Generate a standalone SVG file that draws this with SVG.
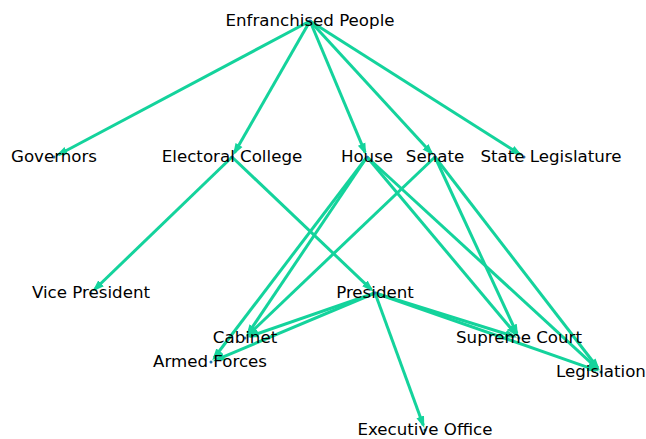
<svg xmlns="http://www.w3.org/2000/svg" width="646" height="439" viewBox="0 0 646 439">
<style>
.e{stroke:#14d39c;stroke-width:3;fill:none;marker-end:url(#ah)}
.n{fill:#1f78b4}
.t{font-family:"DejaVu Sans",sans-serif;font-size:16.67px;fill:#000;text-anchor:middle;dominant-baseline:central}
</style>
<defs>
<marker id="ah" markerUnits="userSpaceOnUse" markerWidth="13" markerHeight="10" refX="9" refY="4.5" orient="auto">
<path d="M0,0.5 L12,4.5 L0,8.5 z" fill="#14d39c"/>
</marker>
</defs>
<rect width="646" height="439" fill="#fff"/>
<g id="edges">
<line class="e" x1="310" y1="21" x2="58.4" y2="154.7"/>
<line class="e" x1="310" y1="21" x2="234.5" y2="152.7"/>
<line class="e" x1="310" y1="21" x2="365.1" y2="152.4"/>
<line class="e" x1="310" y1="21" x2="431.6" y2="153.3"/>
<line class="e" x1="310" y1="21" x2="519.8" y2="154.3"/>
<line class="e" x1="232" y1="157" x2="94.6" y2="289.5"/>
<line class="e" x1="232" y1="157" x2="371.4" y2="289.6"/>
<line class="e" x1="367" y1="157" x2="247.8" y2="333.9"/>
<line class="e" x1="367" y1="157" x2="214.0" y2="358.0"/>
<line class="e" x1="367" y1="157" x2="515.8" y2="334.2"/>
<line class="e" x1="367" y1="157" x2="597.3" y2="368.6"/>
<line class="e" x1="435" y1="157" x2="248.6" y2="334.6"/>
<line class="e" x1="435" y1="157" x2="516.9" y2="333.5"/>
<line class="e" x1="435" y1="157" x2="597.9" y2="368.0"/>
<line class="e" x1="375" y1="293" x2="249.7" y2="336.4"/>
<line class="e" x1="375" y1="293" x2="215.6" y2="360.1"/>
<line class="e" x1="375" y1="293" x2="514.2" y2="336.5"/>
<line class="e" x1="375" y1="293" x2="596.3" y2="370.3"/>
<line class="e" x1="375" y1="293" x2="423.3" y2="425.3"/>
</g>
<g id="n-enfranchised"><circle class="n" cx="310" cy="21" r="1.5"/><text class="t" x="310" y="20">Enfranchised People</text></g>
<g id="n-governors"><circle class="n" cx="54" cy="157" r="1.5"/><text class="t" x="54" y="156">Governors</text></g>
<g id="n-electoral"><circle class="n" cx="232" cy="157" r="1.5"/><text class="t" x="232" y="156">Electoral College</text></g>
<g id="n-house"><circle class="n" cx="367" cy="157" r="1.5"/><text class="t" x="367" y="156">House</text></g>
<g id="n-senate"><circle class="n" cx="435" cy="157" r="1.5"/><text class="t" x="435" y="156">Senate</text></g>
<g id="n-stateleg"><circle class="n" cx="524" cy="157" r="1.5"/><text class="t" x="551" y="156">State Legislature</text></g>
<g id="n-vp"><circle class="n" cx="91" cy="293" r="1.5"/><text class="t" x="91" y="292">Vice President</text></g>
<g id="n-president"><circle class="n" cx="375" cy="293" r="1.5"/><text class="t" x="375" y="292">President</text></g>
<g id="n-cabinet"><circle class="n" cx="245" cy="338" r="1.5"/><text class="t" x="245" y="337">Cabinet</text></g>
<g id="n-armed"><circle class="n" cx="211" cy="362" r="1.5"/><text class="t" x="210" y="361">Armed Forces</text></g>
<g id="n-supreme"><circle class="n" cx="519" cy="338" r="1.5"/><text class="t" x="519" y="337">Supreme Court</text></g>
<g id="n-legislation"><circle class="n" cx="601" cy="372" r="1.5"/><text class="t" x="601" y="371">Legislation</text></g>
<g id="n-exec"><circle class="n" cx="425" cy="430" r="1.5"/><text class="t" x="425" y="429">Executive Office</text></g>
</svg>
